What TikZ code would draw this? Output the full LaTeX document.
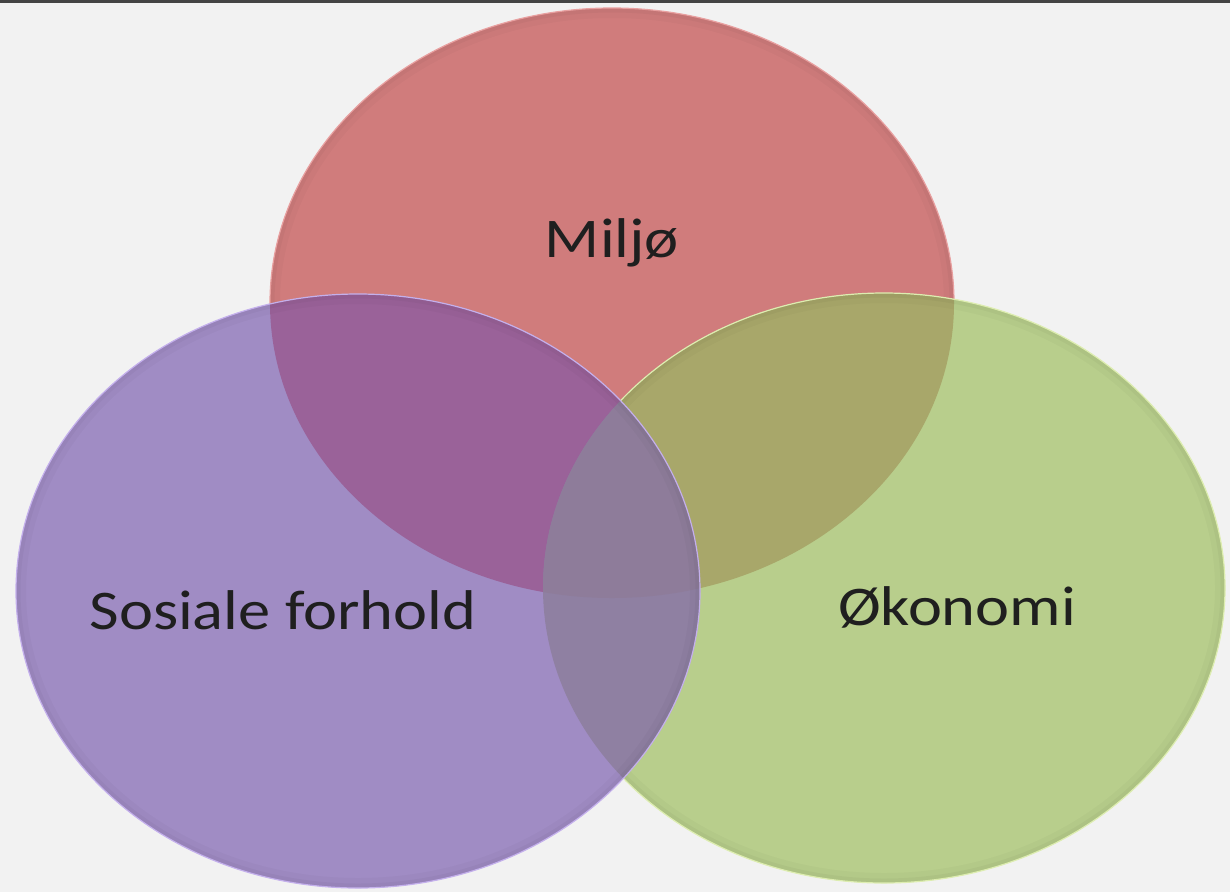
\documentclass[tikz,border=0pt]{standalone}
\usepackage{fontspec}
\setmainfont{Carlito}
\definecolor{bg}{HTML}{F2F2F2}
\definecolor{bar}{HTML}{444444}
\definecolor{cR}{HTML}{D07C7C}
\definecolor{cP}{HTML}{A08CC4}
\definecolor{cG}{HTML}{B8CE8C}
\definecolor{cRP}{HTML}{9A6299}
\definecolor{cRG}{HTML}{A8A76A}
\definecolor{cPG}{HTML}{8F80A2}
\definecolor{cRPG}{HTML}{8E7C9A}
\definecolor{rimR}{HTML}{E8A0A0}
\definecolor{rimP}{HTML}{C4B0EC}
\definecolor{rimG}{HTML}{DDEDB0}
\tikzset{
  lbl/.style={font=\fontsize{56}{66}\selectfont, text=black!88, inner sep=0pt, xscale=1.15},
  bandA/.style={line width=20pt, draw=black, draw opacity=0.025},
  bandB/.style={line width=9pt, draw=black, draw opacity=0.03},
}
\begin{document}
\begin{tikzpicture}[x=1pt,y=-1pt]
\fill[bg] (0,0) rectangle (1230,892);
\useasboundingbox (0,0) rectangle (1230,892);
\fill[bar] (0,0) rectangle (1230,3);
\def\ellR{(612,303) ellipse [x radius=342, y radius=295]}
\def\ellP{(358,591) ellipse [x radius=342, y radius=297]}
\def\ellG{(884,588) ellipse [x radius=341, y radius=295]}
\fill[cR] \ellR;
\begin{scope}\clip \ellR; \draw[bandA] \ellR; \draw[bandB] \ellR; \end{scope}
\draw[rimR, line width=1.2pt] \ellR;
\fill[cG] \ellG;
\begin{scope}\clip \ellR; \fill[cRG] \ellG; \end{scope}
\begin{scope}\clip \ellG; \draw[bandA] \ellG; \draw[bandB] \ellG; \end{scope}
\draw[rimG, line width=1.2pt] \ellG;
\fill[cP] \ellP;
\begin{scope}\clip \ellR; \fill[cRP] \ellP; \end{scope}
\begin{scope}\clip \ellG; \fill[cPG] \ellP; \end{scope}
\begin{scope}\clip \ellR; \clip \ellG; \fill[cRPG] \ellP; \end{scope}
\begin{scope}\clip \ellP; \draw[bandA] \ellP; \draw[bandB] \ellP; \end{scope}
\draw[rimP, line width=1.2pt] \ellP;
\node[lbl] (m) at (612,243) {Miljø};
\node[lbl] (s) at (283,610) {Sosiale forhold};
\node[lbl] (o) at (957,607) {Økonomi};
\end{tikzpicture}
\end{document}
